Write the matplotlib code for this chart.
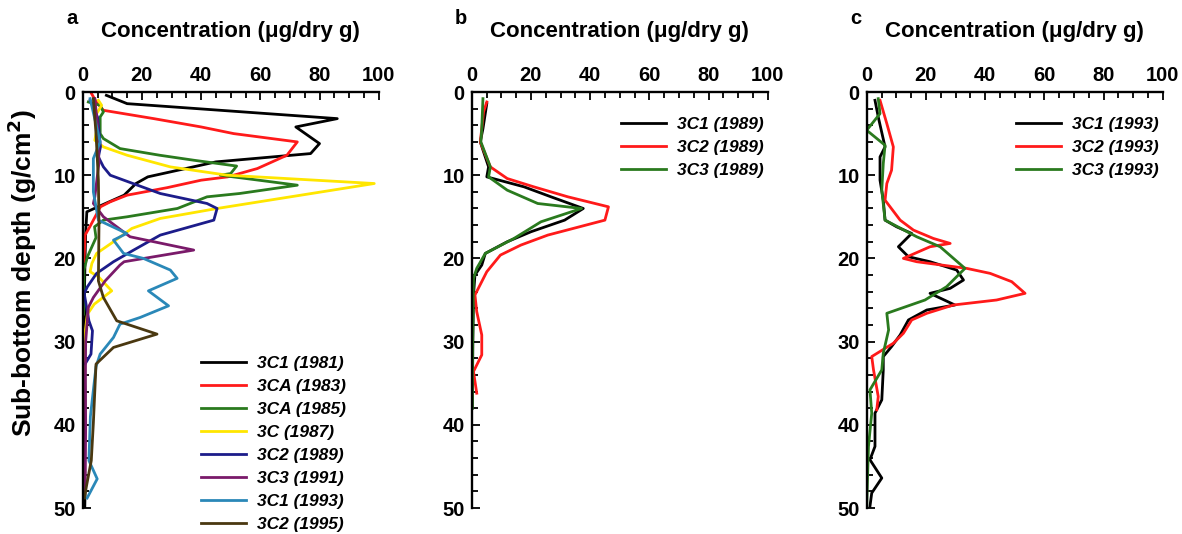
import matplotlib
matplotlib.use("Agg")
import matplotlib.pyplot as plt
from matplotlib.ticker import MultipleLocator

plt.rcParams["font.family"] = ["Liberation Sans", "DejaVu Sans"]
plt.rcParams["font.weight"] = "bold"

# ---- panel a : cores 1981-1995 ----
a_1981_d = [0.4, 1.4, 3.2, 4.2, 6.2, 7.4, 8.4, 10.2, 11.0, 12.4, 14.4, 17, 20, 24, 28, 32, 36, 40, 44, 48, 50]
a_1981_c = [8, 15, 86, 72, 80, 77, 45, 22, 18, 14, 1.4, 1.0, 0.8, 0.6, 0.8, 0.6, 0.8, 0.7, 0.6, 0.8, 0.7]

a_1983_d = [0.2, 1.2, 2.2, 3.2, 4.2, 5.0, 6.0, 7.6, 9.2, 10.2, 10.6, 11.5, 12.4, 13.2, 13.8, 15.4, 16.2, 17.2, 19, 20.4]
a_1983_c = [3, 4.6, 7, 24, 40, 51, 72.5, 69, 59, 49, 40, 28.5, 15, 9.3, 6, 3.6, 2.4, 0.8, 0.6, 0.4]

a_1985_d = [1.2, 1.6, 2.4, 3.0, 5.0, 5.6, 6.8, 7.6, 8.2, 8.9, 9.8, 10.0, 11.2, 12.2, 12.6, 14.0, 15.0, 15.4, 16.2, 17.5, 19.8, 21.4, 24, 26.7]
a_1985_c = [1.9, 5.9, 7, 5.9, 5.9, 7, 12.6, 26, 37.5, 52, 50, 46.5, 72.5, 53, 42, 32, 15, 7, 4, 4.5, 1.6, 0.4, 0.4, 0.3]

a_1987_d = [1.0, 1.6, 2.6, 4.6, 5.8, 6.6, 7.6, 9.0, 10.0, 11.0, 14.0, 15.2, 16.4, 18.0, 19.4, 20.6, 21.6, 22.2, 23.9, 25.5, 26.7, 29.1, 34.3]
a_1987_c = [5.3, 6.4, 4.7, 4.7, 4.1, 7, 15, 29.6, 48.8, 98.5, 45.4, 26.2, 16.6, 10.4, 4.7, 3.1, 2.5, 5.3, 9.8, 3.9, 1.6, 0.7, 0.2]

a_1989_d = [1.0, 3.0, 6.6, 7.8, 9.0, 10.0, 12.2, 13.4, 14.0, 15.4, 17.2, 19.0, 20.4, 21.8, 23.4, 24.2, 27.5, 28.7, 31.5, 32.7]
a_1989_c = [2.5, 5, 6, 5.3, 7, 9.3, 26.2, 42, 45.4, 44.3, 26.2, 17.2, 10.4, 4.7, 1.6, 0.5, 2.1, 3.3, 2.8, 0.8]

a_1991_d = [0.8, 4, 8.5, 12.6, 13.4, 15.0, 17.4, 19.0, 20.4, 20.8, 22.7, 24.7, 25.9, 30, 35, 40, 45, 48]
a_1991_c = [4.1, 5, 5.5, 4.1, 3.6, 7, 16, 37.5, 14, 12.6, 7.6, 3.6, 1.9, 1.0, 0.9, 1.0, 0.9, 0.8]

a_1993_d = [0.8, 6, 8, 12, 15.4, 17.0, 17.8, 19.4, 20.0, 21.4, 22.4, 23.9, 25.7, 27.1, 27.9, 29.5, 31.5, 33, 39, 44.3, 46.5, 48.8]
a_1993_c = [2.5, 5.9, 3.6, 3.6, 5.3, 14.9, 10.4, 13.8, 20.5, 29.6, 31.9, 22.2, 29, 19.4, 12.6, 10.4, 5.9, 4.5, 2.6, 2.1, 4.9, 1.5]

a_1995_d = [0.8, 5, 10.6, 16, 22.7, 24.7, 27.5, 29.1, 30.7, 32.7, 39.8, 44.3, 47.5, 48.8]
a_1995_c = [3.6, 4.5, 5.3, 5.5, 5.3, 7, 11.5, 25.1, 10.4, 4.5, 3.6, 2.9, 1.2, 0.6]

a_labels = ["3C1 (1981)", "3CA (1983)", "3CA (1985)", "3C (1987)",
            "3C2 (1989)", "3C3 (1991)", "3C1 (1993)", "3C2 (1995)"]
a_colors = ["black", "#ff1a1a", "#2a7a1e", "#ffe600",
            "#1c1c8a", "#7a1a6a", "#2a88b8", "#4a3810"]

# ---- panel b : 1989 cores ----
b_c1_d = [1.4, 4.4, 6.0, 9.0, 10.2, 11.4, 12.6, 14.0, 15.4, 16.8, 18.0, 19.4, 20.8, 22.0, 24.4, 30, 38]
b_c1_c = [5.1, 3.8, 2.9, 5.7, 5.1, 17.7, 26.8, 37.7, 31.4, 20, 12, 4.6, 3.4, 1.1, 0.6, 0.4, 0.2]

b_c2_d = [1.2, 2.4, 4.4, 6.0, 9.0, 10.4, 11.4, 12.6, 13.8, 15.4, 17.2, 18.4, 19.6, 21.6, 24.4, 26.4, 29.2, 31.6, 33.6, 36.2]
b_c2_c = [5.1, 4, 3.4, 2.9, 6.3, 12, 21, 32.5, 46.2, 45, 25.7, 16.6, 9.7, 5.1, 1.1, 1.7, 3.4, 3.4, 0.6, 1.7]

b_c3_d = [0.8, 4.4, 6.0, 9.0, 10.2, 11.8, 13.4, 14.0, 15.6, 17.6, 19.4, 21.2, 22.4, 30, 38]
b_c3_c = [3.8, 3.4, 3.1, 6.3, 5.7, 12, 22.3, 37.1, 23.4, 14.3, 4.6, 1.7, 0.6, 0.3, 0.2]

b_labels = ["3C1 (1989)", "3C2 (1989)", "3C3 (1989)"]

# ---- panel c : 1993 cores ----
c_c1_d = [1, 3, 6.6, 7.8, 10.6, 13, 15.4, 16.2, 17, 18.6, 19.8, 20.4, 21.4, 22.6, 23.6, 24.2, 25.6, 26.2,
          27.4, 29.2, 30.6, 31.8, 33.4, 37, 38.6, 42.6, 44.2, 46.4, 48.2, 49.8]
c_c1_c = [2.8, 3.9, 6.2, 4.5, 4.5, 5.6, 6.2, 10.1, 15.2, 10.7, 14.1, 21.4, 30.4, 32.7, 28.2, 21.4, 29.8, 20.3,
          14.1, 11.3, 8.4, 5.6, 5.6, 5.1, 2.8, 2.8, 1.1, 5.1, 1.7, 1.1]

c_c2_d = [1, 3.8, 6.6, 9.4, 11, 13, 15.4, 16.6, 17.6, 18.2, 18.6, 20, 20.4, 21.2, 21.8, 22.8, 24.2, 25,
          25.6, 26.6, 27.4, 29, 30.2, 31.8, 33.4, 36.6, 38.2]
c_c2_c = [4.5, 6.8, 9, 8.4, 6.8, 6.2, 11.3, 15.8, 22.5, 28.2, 21.4, 12.4, 16.9, 33.8, 41.7, 49, 53.5, 43.9,
          29.3, 20.3, 15.2, 12.4, 9, 1.7, 2.3, 3.9, 3.4]

c_c3_d = [0.8, 2.6, 4.6, 6.4, 8.6, 11.8, 15.4, 17.4, 18.6, 21.2, 23.4, 25, 26.6, 28.6, 31.4, 33.4, 35.8,
          38.6, 42.6, 49.8]
c_c3_c = [3.9, 4.5, 0, 6.2, 5.6, 5.1, 6.2, 16.9, 24.8, 33.2, 27, 19.7, 6.8, 7.4, 5.6, 5.1, 1.1,
          1.7, 0.6, 0]

c_labels = ["3C1 (1993)", "3C2 (1993)", "3C3 (1993)"]
trio_colors = ["black", "#ff1a1a", "#2a7a1e"]

title = "Concentration (\u03bcg/dry g)"


def style_axis(ax):
    ax.set_xlim(0, 100)
    ax.set_ylim(50, 0)
    ax.xaxis.tick_top()
    ax.spines["bottom"].set_visible(False)
    ax.spines["right"].set_visible(False)
    ax.spines["top"].set_linewidth(1.7)
    ax.spines["left"].set_linewidth(1.7)
    ax.xaxis.set_major_locator(MultipleLocator(20))
    ax.xaxis.set_minor_locator(MultipleLocator(5))
    ax.yaxis.set_major_locator(MultipleLocator(10))
    ax.yaxis.set_minor_locator(MultipleLocator(2))
    ax.tick_params(which="both", direction="in", width=1.3, labelsize=14.5,
                   top=True, bottom=False, left=True, right=False)
    ax.tick_params(which="major", length=6, pad=5)
    ax.tick_params(which="minor", length=4)
    for lab in ax.get_xticklabels() + ax.get_yticklabels():
        lab.set_fontweight("bold")


fig = plt.figure(figsize=(11.82, 5.34), dpi=100)
W, H = 1182, 534
ax_w = 296 / W
ax_h = (508 - 92) / H
ax_b = 1 - 508 / H
axes = [fig.add_axes([x0 / W, ax_b, ax_w, ax_h]) for x0 in (82.7, 471.7, 866.7)]

# panel a
a_series = [(a_1981_c, a_1981_d), (a_1983_c, a_1983_d), (a_1985_c, a_1985_d), (a_1987_c, a_1987_d),
            (a_1989_c, a_1989_d), (a_1991_c, a_1991_d), (a_1993_c, a_1993_d), (a_1995_c, a_1995_d)]
for (c, d), lab, col in zip(a_series, a_labels, a_colors):
    axes[0].plot(c, d, color=col, lw=2.0, label=lab)

# panel b
for c, d, lab, col in zip([b_c1_c, b_c2_c, b_c3_c], [b_c1_d, b_c2_d, b_c3_d], b_labels, trio_colors):
    axes[1].plot(c, d, color=col, lw=2.0, label=lab)

# panel c
for c, d, lab, col in zip([c_c1_c, c_c2_c, c_c3_c], [c_c1_d, c_c2_d, c_c3_d], c_labels, trio_colors):
    axes[2].plot(c, d, color=col, lw=2.0, label=lab)

leg_pos = [(0.40, 0.366), (0.505, 0.94), (0.505, 0.94)]
for ax, pos in zip(axes, leg_pos):
    style_axis(ax)
    ax.legend(loc="upper left", bbox_to_anchor=pos, frameon=False, borderpad=0,
              borderaxespad=0, handlelength=2.6, handletextpad=0.6, labelspacing=0.45,
              prop={"size": 12.5, "weight": "bold", "style": "italic"})

# titles and panel letters
for ax, letter, lx in zip(axes, ["a", "b", "c"], [66, 455, 850]):
    bb = ax.get_position()
    fig.text(bb.x0 + bb.width / 2, 1 - 32 / H, title, ha="center", va="center",
             fontsize=16, fontweight="bold")
    fig.text(lx / W, 1 - 19 / H, letter, ha="left", va="center", fontsize=14.5, fontweight="bold")

fig.text(22 / W, 1 - 273 / H, "Sub-bottom depth (g/cm$^\\mathbf{2}$)", rotation=90,
         ha="center", va="center", fontsize=19, fontweight="bold")

fig.savefig("out.png", dpi=100)
